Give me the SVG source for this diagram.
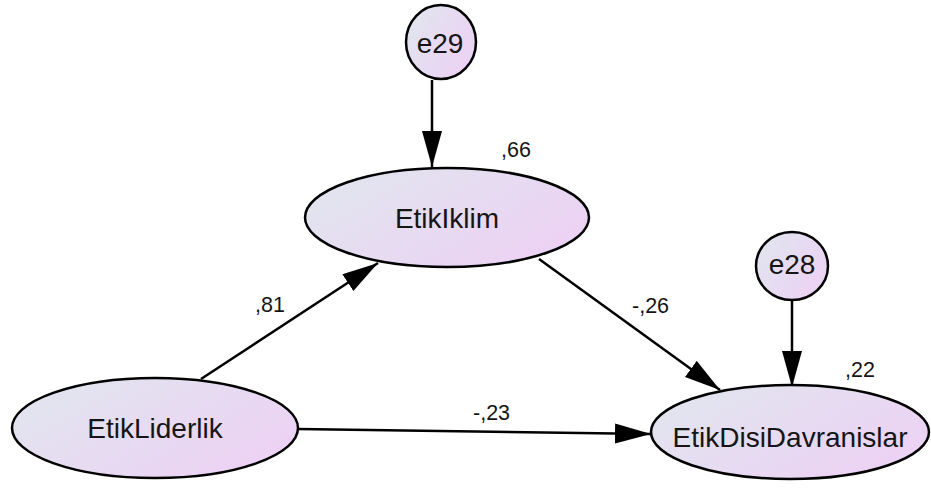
<svg xmlns="http://www.w3.org/2000/svg" width="931" height="490" viewBox="0 0 931 490">
  <defs>
    <linearGradient id="fillGrad" x1="0" y1="0" x2="1" y2="0.6">
      <stop offset="0" stop-color="#e0e7ee"/>
      <stop offset="1" stop-color="#ecd2f4"/>
    </linearGradient>
    <marker id="head" markerUnits="userSpaceOnUse" markerWidth="38" markerHeight="22" refX="36" refY="10" orient="auto">
      <path d="M0,0 L36,10 L0,20 Z" fill="#000"/>
    </marker>
  </defs>
  <style>
    .node { fill: url(#fillGrad); stroke: #000; stroke-width: 2.5; }
    .name { font-family: "Liberation Sans", Arial, sans-serif; font-size: 28px; fill: #151515; text-anchor: middle; }
    .coef { font-family: "Liberation Sans", Arial, sans-serif; font-size: 21.5px; fill: #151515; }
    .path { stroke: #000; stroke-width: 2.5; fill: none; marker-end: url(#head); }
  </style>

  <rect width="931" height="490" fill="#fff"/>

  <g id="connectors">
    <line class="path" x1="432" y1="80" x2="432" y2="167"/>
    <line class="path" x1="792" y1="300" x2="792" y2="387"/>
    <line class="path" x1="201" y1="379" x2="378" y2="263"/>
    <line class="path" x1="539" y1="259" x2="720" y2="390"/>
    <line class="path" x1="298" y1="429" x2="651" y2="434"/>
  </g>

  <g id="e29">
    <ellipse class="node" cx="441" cy="42" rx="35" ry="37"/>
    <text class="name" x="440" y="53">e29</text>
  </g>

  <g id="e28">
    <ellipse class="node" cx="792" cy="266" rx="36" ry="34"/>
    <text class="name" x="792" y="274">e28</text>
  </g>

  <g id="EtikIklim">
    <ellipse class="node" cx="447" cy="217.5" rx="142" ry="49.5"/>
    <text class="name" x="447" y="228">EtikIklim</text>
    <text class="coef" x="501" y="157">,66</text>
  </g>

  <g id="EtikLiderlik">
    <ellipse class="node" cx="155" cy="428" rx="143" ry="50"/>
    <text class="name" x="155" y="438">EtikLiderlik</text>
  </g>

  <g id="EtikDisiDavranislar">
    <ellipse class="node" cx="790" cy="432" rx="139" ry="47"/>
    <text class="name" x="790" y="447">EtikDisiDavranislar</text>
    <text class="coef" x="845" y="377">,22</text>
  </g>

  <g id="coefficients">
    <text class="coef" x="255" y="312">,81</text>
    <text class="coef" x="632" y="313">-,26</text>
    <text class="coef" x="473" y="420">-,23</text>
  </g>
</svg>
